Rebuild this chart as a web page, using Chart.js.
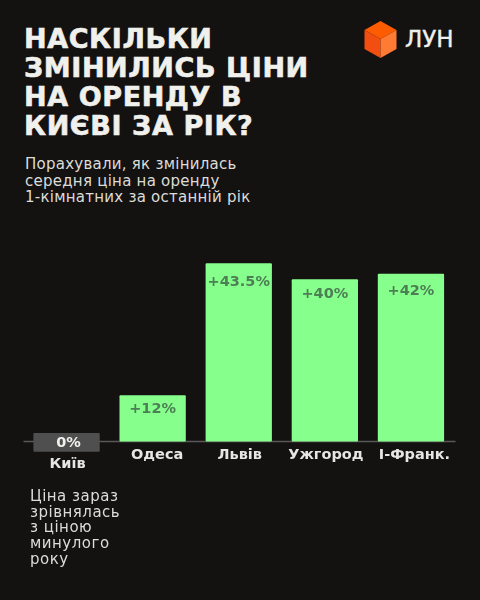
<!DOCTYPE html>
<html lang="uk">
<head>
    <meta charset="UTF-8">
    <title>Ціни на оренду</title>
    <script src="https://cdn.jsdelivr.net/npm/chart.js"></script>
    <style>
        html, body { margin: 0; padding: 0; background: #131211; }
        #page { position: relative; width: 480px; height: 600px; overflow: hidden; color: #f0f0ec; font-family: "DejaVu Sans", sans-serif; }
        #page div { position: absolute; }
        #title { left: 24px; top: 23.5px; font-size: 27px; font-weight: bold; line-height: 29.3px; letter-spacing: 0.6px; -webkit-text-stroke: 0.6px #f0f0ec; white-space: nowrap; }
        #subtitle { left: 25px; top: 156px; font-size: 15px; line-height: 16.5px; letter-spacing: 0.25px; white-space: nowrap; color: #dcdcd8; }
        #note { left: 30px; top: 489px; font-size: 15px; line-height: 15.7px; letter-spacing: 0.5px; white-space: nowrap; color: #dcdcd8; }
        #brand { left: 405px; top: 26px; font-size: 23px; -webkit-text-stroke: 0.4px #f0f0ec; white-space: nowrap; }
        #logo { position: absolute; left: 364px; top: 21px; }
        #chartBox { left: 0; top: 220px; width: 480px; height: 270px; }
    </style>
</head>
<body>
    <div id="page">
        <div id="title">НАСКІЛЬКИ<br>ЗМІНИЛИСЬ ЦІНИ<br>НА ОРЕНДУ В<br>КИЄВІ ЗА РІК?</div>
        <svg id="logo" width="33" height="37" viewBox="0 0 33 37">
            <polygon points="16.5,0 32.500,9 16.5,18 0.500,9" fill="#ff5c00"/>
            <polygon points="0.500,9 16.5,18 16.5,37 0.500,28" fill="#f24e12"/>
            <polygon points="32.500,9 16.5,18 16.5,37 32.500,28" fill="#ff7a33"/>
        </svg>
        <div id="brand">ЛУН</div>
        <div id="subtitle">Порахували, як змінилась<br>середня ціна на оренду<br>1-кімнатних за останній рік</div>
        <div id="chartBox"><canvas id="rentChart" width="480" height="270"></canvas></div>
        <div id="note">Ціна зараз<br>зрівнялась<br>з ціною<br>минулого<br>року</div>
    </div>

    <script>
        const cities = ['Київ', 'Одеса', 'Львів', 'Ужгород', 'І-Франк.'];
        // bar heights
        const barValues = [0, 11.3, 43.5, 39.6, 40.9];
        const valueLabels = ['0%', '+12%', '+43.5%', '+40%', '+42%'];
        // the grey 0% box sits across the axis line
        const zeroBand = [-2.5, 2.1];

        const axisAndLabels = {
            id: 'axisAndLabels',
            beforeDatasetsDraw(chart) {
                const ctx = chart.ctx;
                const y = chart.scales.y.getPixelForValue(0);
                ctx.save();
                ctx.strokeStyle = '#5a5a58';
                ctx.lineWidth = 1.5;
                ctx.beginPath();
                ctx.moveTo(chart.chartArea.left, y);
                ctx.lineTo(chart.chartArea.right + 1.5, y);
                ctx.stroke();
                ctx.restore();
            },
            afterDatasetsDraw(chart) {
                const ctx = chart.ctx;
                const yScale = chart.scales.y;
                const bars = chart.getDatasetMeta(0).data;
                const zeroY = yScale.getPixelForValue(0);
                // distance of each value label below its bar top
                const drop = [10.5, 14, 19, 15, 17];
                // the city names are not quite centred under the bars
                const nudge = [1, 4.5, 1, 1, 3.5];
                ctx.save();
                ctx.textAlign = 'center';
                ctx.textBaseline = 'middle';
                bars.forEach((bar, i) => {
                    const top = yScale.getPixelForValue(i === 0 ? zeroBand[1] : barValues[i]);
                    ctx.font = 'bold 14.5px "DejaVu Sans"';
                    ctx.fillStyle = i === 0 ? '#f0f0ec' : '#4d7f55';
                    ctx.fillText(valueLabels[i], bar.x + (i === 0 ? 2 : 0), top + drop[i]);
                    ctx.fillStyle = '#e6e6e2';
                    ctx.fillText(cities[i], bar.x + nudge[i], zeroY + (i === 0 ? 22.5 : 14));
                });
                ctx.restore();
            }
        };

        new Chart(document.getElementById('rentChart').getContext('2d'), {
            type: 'bar',
            data: {
                labels: cities,
                datasets: [{
                    data: barValues.map(v => v === 0 ? zeroBand : [0, v]),
                    backgroundColor: barValues.map(v => v === 0 ? '#4f4f4f' : '#87ff8d'),
                    borderRadius: 1,
                    borderSkipped: false,
                    barPercentage: 0.77,
                    categoryPercentage: 1
                }]
            },
            options: {
                responsive: false,
                animation: false,
                layout: { padding: { left: 23.5, right: 26, top: 16.5, bottom: 7.5 } },
                plugins: { legend: { display: false }, tooltip: { enabled: false } },
                scales: {
                    x: { display: false },
                    y: { display: false, min: -10, max: 50 }
                }
            },
            plugins: [axisAndLabels]
        });
    </script>
</body>
</html>
